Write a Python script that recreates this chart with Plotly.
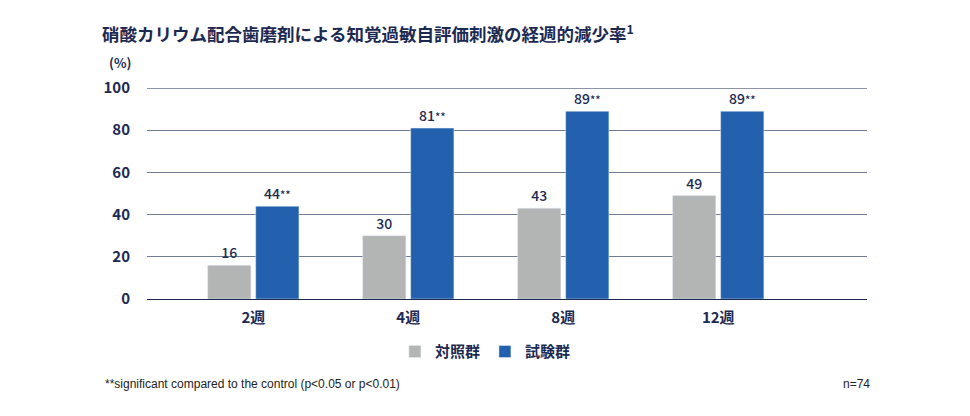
import plotly.graph_objects as go

weeks = ["2週", "4週", "8週", "12週"]
control = [16, 30, 43, 49]
test = [44, 81, 89, 89]
sig_marks = ["**", "**", "**", "**"]
y_ticks = [0, 20, 40, 60, 80, 100]

navy = "#1c2a52"
gray = "#b3b4b4"
blue = "#2360ad"
font_jp = "Noto Sans CJK JP"

# page body has an 8px margin, so the figure is drawn 8px smaller and shifted
W, H = 962, 408

test_text = [f"{v}<span style='font-size:11px'>{m}</span>" for v, m in zip(test, sig_marks)]

fig = go.Figure()
fig.add_trace(go.Bar(
    x=weeks, y=control, name="<b>対照群</b>", marker_color=gray,
    text=[str(v) for v in control], textposition="outside", cliponaxis=False,
    textfont=dict(family=font_jp, size=14, color=navy, weight=500),
))
fig.add_trace(go.Bar(
    x=weeks, y=test, name="<b>試験群</b>", marker_color=blue,
    text=test_text, textposition="outside", cliponaxis=False,
    textfont=dict(family=font_jp, size=14, color=navy, weight=500),
))

fig.update_layout(
    width=W, height=H,
    margin=dict(l=139, r=103, t=80, b=117),
    paper_bgcolor="white", plot_bgcolor="white",
    barmode="group", bargap=0.38, bargroupgap=0.1,
    font=dict(family=font_jp, color=navy),
    title=dict(
        text="<b>硝酸カリウム配合歯磨剤による知覚過敏自評価刺激の経週的減少率<sup>1</sup></b>",
        x=(102 - 8) / W, xanchor="left", y=1 - (35 - 8) / H, yanchor="middle",
        font=dict(family=font_jp, size=17.5, color=navy),
        automargin=False,
    ),
    legend=dict(
        orientation="h", x=0.47, xanchor="center", y=-0.25, yanchor="middle",
        font=dict(family=font_jp, size=15, color=navy),
        traceorder="normal",
    ),
)

fig.update_xaxes(
    range=[-0.686, 3.96], showgrid=False, showline=False, ticks="",
    tickvals=weeks, ticktext=[f"<b>{w}</b>" for w in weeks],
    tickfont=dict(family=font_jp, size=15, color=navy),
    ticklabelstandoff=8, automargin=False,
)
fig.update_yaxes(
    range=[0, 100], tickvals=y_ticks, ticktext=[f"<b>{v}</b>" for v in y_ticks],
    showgrid=True, gridcolor="#6f7b93", gridwidth=1.2,
    zeroline=True, zerolinecolor=navy, zerolinewidth=1.2,
    showline=False, ticks="", ticklabelstandoff=16,
    tickfont=dict(family=font_jp, size=15, color=navy),
    automargin=False,
)

fig.add_shape(type="line", xref="paper", yref="y", x0=0, x1=1, y0=100, y1=100,
              line=dict(color=navy, width=1.2), layer="below")

fig.add_annotation(text="<b>(%)</b>", xref="paper", yref="paper",
                   x=(120 - 147) / 720, y=(299 - 62) / 211, xanchor="center", yanchor="middle",
                   showarrow=False, font=dict(family=font_jp, size=13, color=navy))
fig.add_annotation(text="**significant compared to the control (p<0.05 or p<0.01)",
                   xref="paper", yref="paper", x=(103 - 147) / 720, y=(299 - 384) / 211,
                   xanchor="left", yanchor="middle", showarrow=False,
                   font=dict(family="Liberation Sans", size=12, color="#222"))
fig.add_annotation(text="n=74", xref="paper", yref="paper", x=(872 - 147) / 720, y=(299 - 384) / 211,
                   xanchor="right", yanchor="middle", showarrow=False,
                   font=dict(family="Liberation Sans", size=12, color="#222"))

fig.write_html("out.html")
